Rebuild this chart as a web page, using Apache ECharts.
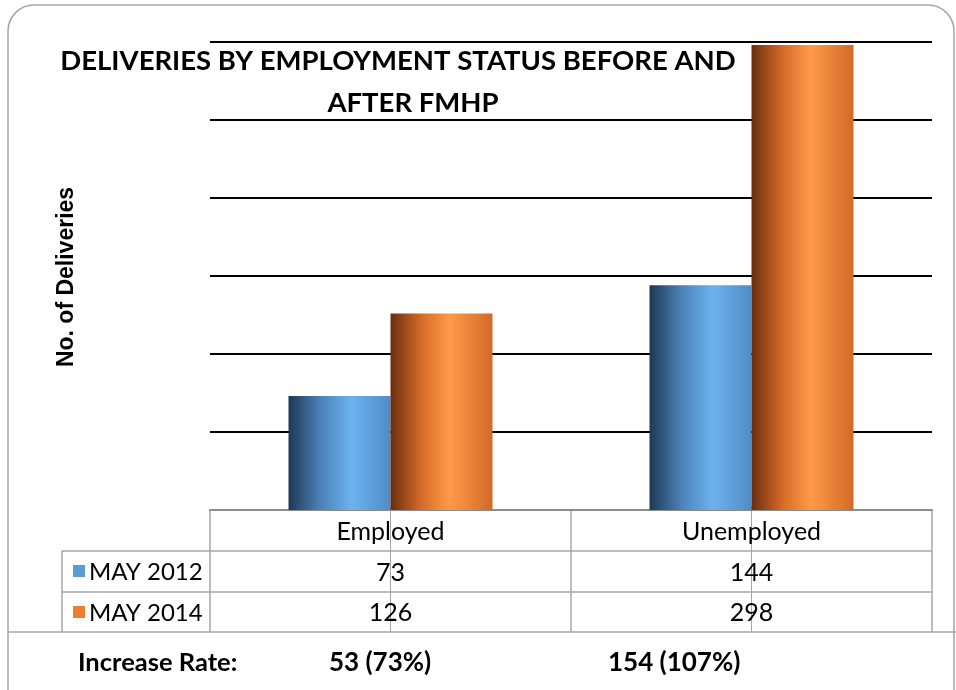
<!DOCTYPE html>
<html>
<head>
<meta charset="utf-8">
<script src="https://cdn.jsdelivr.net/npm/echarts@6/dist/echarts.min.js"></script>
<style>
  html, body { margin: 0; padding: 0; background: #fff; }
  #chart { width: 956px; height: 690px; }
</style>
</head>
<body>
<div id="chart"></div>
<script>
  const categories = ['Employed', 'Unemployed']
  const seriesNames = ['MAY 2012', 'MAY 2014']
  const may2012 = [73, 144]
  const may2014 = [126, 298]
  const increaseLabel = 'Increase Rate:'
  const increaseValues = ['53 (73%)', '154 (107%)']

  const blueGrad = new echarts.graphic.LinearGradient(0, 0, 1, 0, [
    { offset: 0, color: '#1e3854' },
    { offset: 0.3, color: '#4a7fb4' },
    { offset: 0.62, color: '#6db2f0' },
    { offset: 1, color: '#4f8cc6' }
  ])
  const orangeGrad = new echarts.graphic.LinearGradient(0, 0, 1, 0, [
    { offset: 0, color: '#6a2e0e' },
    { offset: 0.3, color: '#d46a28' },
    { offset: 0.58, color: '#ff9a48' },
    { offset: 1, color: '#d26a28' }
  ])

  const chart = echarts.init(document.getElementById('chart'))

  chart.setOption({
    animation: false,
    textStyle: { fontFamily: 'Lato' },
    grid: { left: 210, right: 24, top: 42, bottom: 180 },
    xAxis: {
      type: 'category',
      data: categories,
      axisLine: { lineStyle: { color: '#8c8c8c', width: 2 } },
      axisTick: { show: false },
      axisLabel: { show: false }
    },
    yAxis: {
      type: 'value',
      min: 0,
      max: 300,
      interval: 50,
      axisLine: { show: false },
      axisTick: { show: false },
      axisLabel: { show: false },
      splitLine: { showMinLine: false, lineStyle: { color: '#000', width: 2 } }
    },
    series: [
      {
        name: seriesNames[0],
        type: 'bar',
        data: may2012,
        barWidth: 102,
        barGap: '0%',
        itemStyle: { color: blueGrad }
      },
      {
        name: seriesNames[1],
        type: 'bar',
        data: may2014,
        barWidth: 102,
        itemStyle: { color: orangeGrad }
      }
    ]
  })

  // table + decorations
  const lineStyle = { stroke: '#a6a6a6', lineWidth: 1.5 }
  const els = []
  const rowTop = 510, row1 = 551, row2 = 592, rowBottom = 632
  const centers = categories.map(c => chart.convertToPixel({ xAxisIndex: 0 }, c))
  const gridLeft = 210, gridRight = 932
  const boundaries = [gridLeft, (centers[0] + centers[1]) / 2, gridRight]

  // card outline
  els.push({
    type: 'rect', shape: { x: 8, y: 5, width: 946, height: 720, r: [26, 26, 0, 0] },
    style: { fill: 'none', stroke: '#a6a6a6', lineWidth: 1.5 }, z: -1
  })
  els.push({ type: 'line', shape: { x1: 8, y1: rowBottom, x2: 956, y2: rowBottom }, style: lineStyle })

  boundaries.forEach(x => {
    els.push({ type: 'line', shape: { x1: x, y1: rowTop, x2: x, y2: rowBottom }, style: lineStyle })
  })
  els.push({ type: 'line', shape: { x1: 62, y1: row1, x2: 62, y2: rowBottom }, style: lineStyle })
  els.push({ type: 'line', shape: { x1: 62, y1: row1, x2: gridRight, y2: row1 }, style: lineStyle })
  els.push({ type: 'line', shape: { x1: 62, y1: row2, x2: gridRight, y2: row2 }, style: lineStyle })
  centers.forEach(x => {
    els.push({ type: 'line', shape: { x1: x, y1: rowTop - 4, x2: x, y2: rowBottom }, style: { stroke: '#a6a6a6', lineWidth: 1 } })
  })

  const cellFont = { fontFamily: 'Lato', fontSize: 25, fill: '#000' }
  categories.forEach((c, i) => {
    els.push({ type: 'text', x: centers[i], y: (rowTop + row1) / 2 + 1, style: Object.assign({ text: c, align: 'center', verticalAlign: 'middle' }, cellFont) })
    els.push({ type: 'text', x: centers[i], y: (row1 + row2) / 2 + 1, style: Object.assign({ text: String(may2012[i]), align: 'center', verticalAlign: 'middle' }, cellFont) })
    els.push({ type: 'text', x: centers[i], y: (row2 + rowBottom) / 2 + 1, style: Object.assign({ text: String(may2014[i]), align: 'center', verticalAlign: 'middle' }, cellFont) })
  })
  const legendColors = ['#5b9bd5', '#ed7d31']
  ;[row1, row2].forEach((top, i) => {
    els.push({ type: 'rect', shape: { x: 73, y: top + 14, width: 12, height: 12 }, style: { fill: legendColors[i] } })
    els.push({ type: 'text', x: 89, y: top + 21, style: Object.assign({ text: seriesNames[i], align: 'left', verticalAlign: 'middle' }, cellFont, { fontSize: 24 }) })
  })

  // increase rate row
  const boldFont = { fontFamily: 'Lato', fontSize: 25.5, fontWeight: 'bold', fill: '#000' }
  els.push({ type: 'text', x: 78, y: 663, style: Object.assign({ text: increaseLabel, align: 'left', verticalAlign: 'middle' }, boldFont) })
  const incX = [329, 608]
  increaseValues.forEach((t, i) => {
    els.push({ type: 'text', x: incX[i], y: 663, style: Object.assign({ text: t, align: 'left', verticalAlign: 'middle' }, boldFont, { fontSize: 26 }) })
  })

  // title
  const titleFont = { fontFamily: 'Lato', fontSize: 27.5, fontWeight: 'bold', fill: '#000' }
  els.push({ type: 'text', x: 398, y: 61, style: Object.assign({ text: 'DELIVERIES BY EMPLOYMENT STATUS BEFORE AND', align: 'center', verticalAlign: 'middle' }, titleFont), z: 10 })
  els.push({ type: 'text', x: 413, y: 103, style: Object.assign({ text: 'AFTER FMHP', align: 'center', verticalAlign: 'middle' }, titleFont), z: 10 })

  // y axis title
  els.push({
    type: 'text', x: 67, y: 277, rotation: Math.PI / 2,
    style: { text: 'No. of Deliveries', align: 'center', verticalAlign: 'middle', fontFamily: 'Liberation Sans', fontSize: 23, fontWeight: 'bold', fill: '#000' }
  })

  chart.setOption({ graphic: { elements: els } })
</script>
</body>
</html>
